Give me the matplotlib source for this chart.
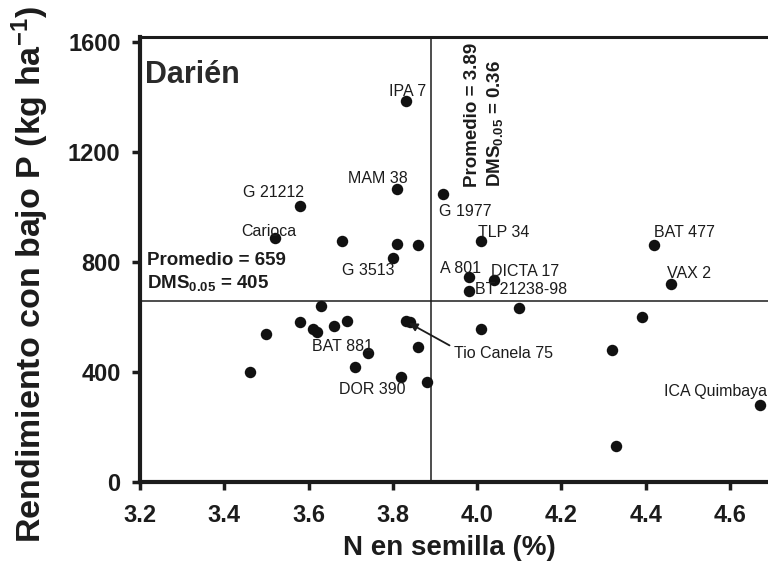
import numpy as np
import matplotlib
matplotlib.use('Agg')
import matplotlib.pyplot as plt

plt.rcParams['font.family'] = ['Liberation Sans', 'DejaVu Sans']
plt.rcParams['mathtext.default'] = 'regular'

# genotipos evaluados en Darién: N en semilla (%) y rendimiento con bajo P (kg/ha)
genotipos = ['IPA 7', 'MAM 38', 'G 21212', 'Carioca', '', '', '', 'G 3513',
             'G 1977', 'TLP 34', 'BAT 477', 'A 801', 'DICTA 17', 'VAX 2',
             'BT 21238-98', '', '', '', '', 'ICA Quimbaya', '', '', '', '',
             '', '', '', '', 'Tio Canela 75', '', '', 'BAT 881', '', '',
             'DOR 390', '']
n_semilla = [3.83, 3.81, 3.58, 3.52, 3.68, 3.81, 3.86, 3.80,
             3.92, 4.01, 4.42, 3.98, 4.04, 4.46,
             3.98, 4.10, 4.01, 4.39, 4.32, 4.67, 4.33, 3.63, 3.58, 3.50,
             3.61, 3.62, 3.66, 3.69, 3.83, 3.84, 3.86, 3.74, 3.71, 3.46,
             3.82, 3.88]
rendimiento = [1387, 1065, 1005, 886, 876, 867, 861, 813,
               1047, 877, 862, 744, 735, 720,
               693, 634, 556, 601, 480, 280, 131, 641, 581, 537,
               555, 547, 567, 585, 585, 583, 492, 468, 417, 399,
               383, 363]

promedio_n, dms_n = 3.89, 0.36
promedio_r, dms_r = 659, 405

x_ticks = [3.2, 3.4, 3.6, 3.8, 4.0, 4.2, 4.4, 4.6]
y_ticks = [0, 400, 800, 1200, 1600]

# desplazamiento de cada etiqueta respecto a su punto (pixeles)
desplaz = {
    'IPA 7': (-17, 5), 'MAM 38': (-49, 6), 'G 21212': (-57, 9),
    'Carioca': (-34, 2), 'G 3513': (-51, -17), 'G 1977': (-4, -22),
    'TLP 34': (-3, 4), 'BAT 477': (0, 8), 'A 801': (-29, 4),
    'DICTA 17': (-3, 4), 'VAX 2': (-4, 6), 'BT 21238-98': (6, -3),
    'BAT 881': (-56, 2), 'DOR 390': (-62, -17), 'ICA Quimbaya': (-96, 9),
    'Tio Canela 75': (48, -37),
}

oscuro = '#1c1c1c'

fig = plt.figure(figsize=(7.68, 5.8), dpi=100)
ax = fig.add_axes([140 / 768, 98 / 580, 628 / 768, 445 / 580])
ax.set_xlim(3.2, 4.69)
ax.set_ylim(0, 1618)

ax.axhline(promedio_r, color=oscuro, lw=1.1, zorder=1)
ax.axvline(promedio_n, color=oscuro, lw=1.1, zorder=1)

ax.scatter(n_semilla, rendimiento, s=68, color='#111111', linewidths=0, zorder=3)

for nombre, x, y in zip(genotipos, n_semilla, rendimiento):
    if not nombre:
        continue
    dx, dy = desplaz[nombre]
    if nombre == 'Tio Canela 75':
        ax.annotate(nombre, (x, y), xytext=(dx, dy), textcoords='offset pixels',
                    ha='left', va='baseline', fontsize=11.5, color=oscuro,
                    arrowprops=dict(arrowstyle='-|>', color=oscuro, lw=1.3,
                                    mutation_scale=12, shrinkA=1, shrinkB=3,
                                    relpos=(0, 0.9)))
    else:
        ax.annotate(nombre, (x, y), xytext=(dx, dy), textcoords='offset pixels',
                    ha='left', va='baseline', fontsize=11.5, color=oscuro)

ax.text(0.008, 0.897, 'Darién', transform=ax.transAxes, fontsize=22,
        fontweight='bold', color='#2a2a2a', ha='left', va='baseline')
ax.text(0.011, 0.488, f'Promedio = {promedio_r}', transform=ax.transAxes,
        fontsize=13.5, fontweight='bold', color=oscuro, ha='left', va='baseline')
ax.text(0.011, 0.436, f'DMS$_{{0.05}}$ = {dms_r}', transform=ax.transAxes,
        fontsize=13.5, fontweight='bold', color=oscuro, ha='left', va='baseline')
ax.text(0.536, 0.663, f'Promedio = {promedio_n}', transform=ax.transAxes,
        fontsize=13.5, fontweight='bold', color=oscuro, rotation=90,
        rotation_mode='anchor', ha='left', va='baseline')
ax.text(0.573, 0.663, f'DMS$_{{0.05}}$ = {dms_n}', transform=ax.transAxes,
        fontsize=13.5, fontweight='bold', color=oscuro, rotation=90,
        rotation_mode='anchor', ha='left', va='baseline')

ax.set_xticks(x_ticks)
ax.set_xticklabels([f'{t:.1f}' for t in x_ticks])
ax.set_yticks(y_ticks)
ax.set_yticklabels([str(t) for t in y_ticks])
ax.tick_params(direction='out', length=6, width=2.5, labelsize=17,
               colors=oscuro)
ax.tick_params(axis='x', pad=10)
ax.tick_params(axis='y', pad=8)
for lbl in ax.get_xticklabels() + ax.get_yticklabels():
    lbl.set_fontweight('bold')

ax.spines['right'].set_visible(False)
ax.spines['left'].set_linewidth(3)
ax.spines['bottom'].set_linewidth(3)
ax.spines['top'].set_linewidth(2.2)
for s in ('left', 'bottom', 'top'):
    ax.spines[s].set_color(oscuro)

fig.text(449 / 768, 1 - 548 / 580, 'N en semilla (%)', fontsize=20,
         fontweight='bold', color=oscuro, ha='center', va='center')
fig.text(30 / 768, 1 - 275 / 580, 'Rendimiento con bajo P (kg ha$^{-1}$)',
         fontsize=24.5, fontweight='bold', color=oscuro, rotation=90,
         ha='center', va='center')

fig.savefig('out.png', dpi=100, facecolor='white')
